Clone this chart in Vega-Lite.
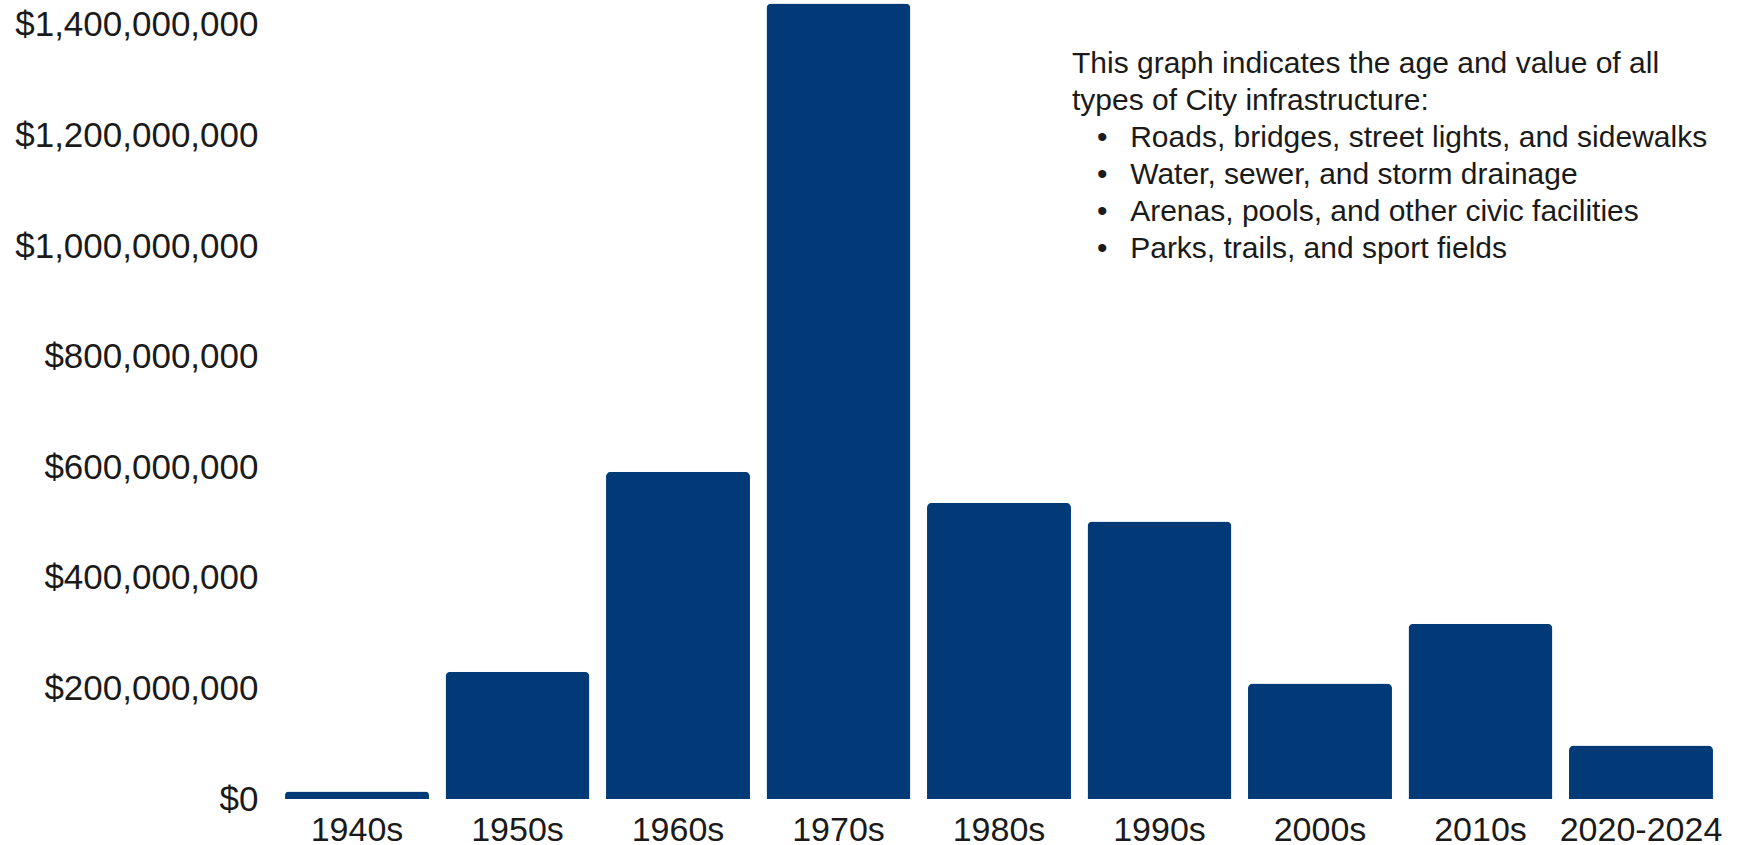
{
  "$schema": "https://vega.github.io/schema/vega-lite/v6.json",
  "autosize": "none",
  "width": 1444,
  "height": 799,
  "padding": {"left": 277, "top": 0, "right": 20, "bottom": 46},
  "background": "white",
  "title": {
    "text": [
      "This graph indicates the age and value of all",
      "types of City infrastructure:",
      "\u200b\u00a0\u00a0\u00a0\u2022\u00a0\u00a0\u2009Roads, bridges, street lights, and sidewalks",
      "\u200b\u00a0\u00a0\u00a0\u2022\u00a0\u00a0\u2009Water, sewer, and storm drainage",
      "\u200b\u00a0\u00a0\u00a0\u2022\u00a0\u00a0\u2009Arenas, pools, and other civic facilities",
      "\u200b\u00a0\u00a0\u00a0\u2022\u00a0\u00a0\u2009Parks, trails, and sport fields"
    ],
    "anchor": "start",
    "frame": "group",
    "orient": "top",
    "offset": 0,
    "baseline": "top",
    "dx": 795,
    "dy": 264,
    "font": "Liberation Sans",
    "fontSize": 30,
    "fontWeight": "normal",
    "lineHeight": 37,
    "color": "#1a1a1a"
  },
  "data": {
    "values": [
      {"decade": "1940s", "value": 13600000},
      {"decade": "1950s", "value": 230000000},
      {"decade": "1960s", "value": 592000000},
      {"decade": "1970s", "value": 1439000000},
      {"decade": "1980s", "value": 536000000},
      {"decade": "1990s", "value": 502000000},
      {"decade": "2000s", "value": 209000000},
      {"decade": "2010s", "value": 317000000},
      {"decade": "2020-2024", "value": 96700000}
    ]
  },
  "mark": {
    "type": "bar",
    "color": "#013a77",
    "cornerRadiusTopLeft": 5,
    "cornerRadiusTopRight": 5
  },
  "encoding": {
    "x": {
      "field": "decade",
      "type": "nominal",
      "sort": null,
      "title": null,
      "scale": {"paddingInner": 0.103, "paddingOuter": 0.05},
      "axis": {
        "domain": false,
        "ticks": false,
        "tickSize": 0,
        "labelAngle": 0,
        "labelFont": "Liberation Sans",
        "labelFontSize": 34,
        "labelColor": "#1a1a1a",
        "labelPadding": 14,
        "labelLimit": 0
      }
    },
    "y": {
      "field": "value",
      "type": "quantitative",
      "title": null,
      "scale": {"domain": [0, 1445200000], "nice": false, "zero": true},
      "axis": {
        "values": [0, 200000000, 400000000, 600000000, 800000000, 1000000000, 1200000000, 1400000000],
        "format": "$,.0f",
        "domain": false,
        "ticks": false,
        "tickSize": 0,
        "grid": false,
        "labelFont": "Liberation Sans",
        "labelFontSize": 35,
        "labelColor": "#1a1a1a",
        "labelPadding": 19,
        "labelLimit": 0
      }
    }
  },
  "config": {"view": {"stroke": null}}
}
